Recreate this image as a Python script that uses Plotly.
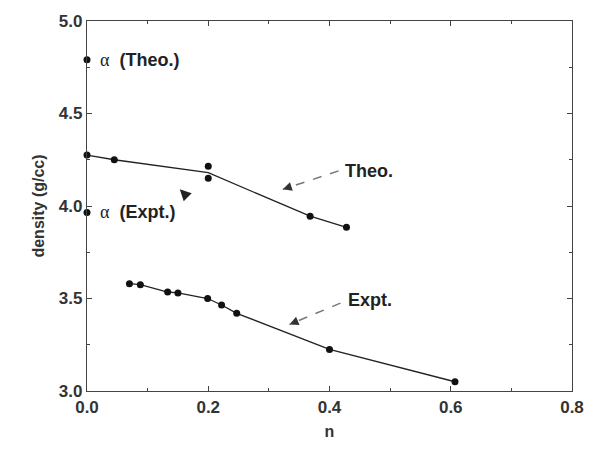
import plotly.graph_objects as go

# Theoretical data
theo_n = [0.0, 0.045, 0.2, 0.2, 0.368, 0.428]
theo_d = [4.275, 4.25, 4.215, 4.15, 3.945, 3.885]
theo_line_n = [0.0, 0.045, 0.2, 0.368, 0.428]
theo_line_d = [4.275, 4.25, 4.18, 3.945, 3.885]

# Experimental data
expt_n = [0.07, 0.088, 0.133, 0.15, 0.199, 0.222, 0.247, 0.40, 0.607]
expt_d = [3.58, 3.575, 3.535, 3.53, 3.50, 3.465, 3.42, 3.225, 3.05]

# Alpha-phase points
alpha_n = [0.0, 0.0]
alpha_d = [4.79, 3.965]
alpha_labels = ["<span style='font-family:Liberation Serif;font-weight:normal'>α</span>  (Theo.)",
                "<span style='font-family:Liberation Serif;font-weight:normal'>α</span>  (Expt.)"]

FONT = "Liberation Sans, Arial, sans-serif"

fig = go.Figure()
fig.add_trace(go.Scatter(x=theo_line_n, y=theo_line_d, mode="lines",
                         line=dict(color="#222", width=1.3), showlegend=False, cliponaxis=False))
fig.add_trace(go.Scatter(x=theo_n, y=theo_d, mode="markers",
                         marker=dict(color="#111", size=7), showlegend=False, cliponaxis=False))
fig.add_trace(go.Scatter(x=expt_n, y=expt_d, mode="lines+markers",
                         line=dict(color="#222", width=1.3),
                         marker=dict(color="#111", size=7), showlegend=False, cliponaxis=False))
fig.add_trace(go.Scatter(x=alpha_n, y=alpha_d, mode="markers",
                         marker=dict(color="#111", size=7), showlegend=False, cliponaxis=False))

for yv, lab in zip(alpha_d, alpha_labels):
    fig.add_annotation(x=0.018, y=yv, text=lab, showarrow=False, xanchor="left",
                       font=dict(family=FONT, size=18, color="#222", weight="bold"))

# dashed pointer arrows
arrows = [
    dict(tail=(0.415, 4.19), head=(0.323, 4.09), text="Theo.", tx=0.422, ty=4.19),
    dict(tail=(0.418, 3.475), head=(0.334, 3.36), text="Expt.", tx=0.427, ty=3.49),
]
for a in arrows:
    fig.add_shape(type="line", x0=a["tail"][0], y0=a["tail"][1], x1=a["head"][0], y1=a["head"][1],
                  line=dict(color="#777", width=1.5, dash="dash"))
    fig.add_annotation(x=a["head"][0], y=a["head"][1],
                       ax=a["head"][0] + (a["tail"][0] - a["head"][0]) * 0.15,
                       ay=a["head"][1] + (a["tail"][1] - a["head"][1]) * 0.15,
                       axref="x", ayref="y", text="", showarrow=True,
                       arrowhead=2, arrowsize=1.2, arrowwidth=1.5, arrowcolor="#333")
    fig.add_annotation(x=a["tx"], y=a["ty"], text=a["text"], showarrow=False, xanchor="left",
                       font=dict(family=FONT, size=18, color="#222", weight="bold"))

# small arrow mark
fig.add_annotation(x=0.153, y=4.09, ax=7, ay=7, text="",
                   showarrow=True, arrowhead=2, arrowsize=0.9, arrowwidth=2.5, arrowcolor="#222")

axis_common = dict(showline=True, linecolor="#444", linewidth=1.3, mirror="allticks",
                   ticks="inside", ticklen=5, tickcolor="#444", showgrid=False, zeroline=False,
                   tickfont=dict(family=FONT, size=17, color="#333", weight="bold"))

fig.update_xaxes(range=[0, 0.8], tickvals=[0, 0.2, 0.4, 0.6, 0.8], tickformat=".1f",
                 minor=dict(dtick=0.1, ticks="inside", ticklen=3, tickcolor="#444"),
                 title=dict(text="n", font=dict(family=FONT, size=16, color="#333", weight="bold"),
                            standoff=10),
                 **axis_common)
fig.update_yaxes(range=[3.0, 5.0], tickvals=[3.0, 3.5, 4.0, 4.5, 5.0], tickformat=".1f",
                 minor=dict(dtick=0.25, ticks="inside", ticklen=3, tickcolor="#444"),
                 title=dict(text="density (g/cc)", font=dict(family=FONT, size=16, color="#333", weight="bold"),
                            standoff=10),
                 **axis_common)

fig.update_layout(width=596, height=450, margin=dict(l=87, r=15, t=16, b=55),
                  plot_bgcolor="white", paper_bgcolor="white")

fig.write_html("out.html")
